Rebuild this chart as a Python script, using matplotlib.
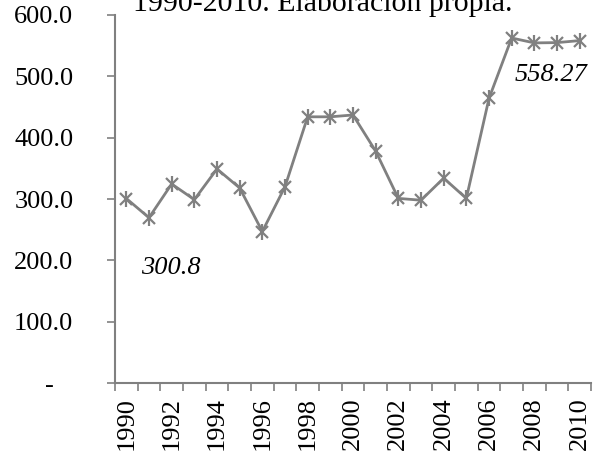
import matplotlib
matplotlib.use("Agg")
import matplotlib.pyplot as plt
import numpy as np

years = list(range(1990, 2011))
values = [300.8, 269.5, 324.5, 299.0, 349.0, 318.0, 247.0, 320.0, 434.0, 434.0, 437.0,
          378.0, 301.0, 298.0, 334.0, 301.0, 464.0, 562.5, 554.5, 555.0, 558.27]
ytick_vals = [0, 100, 200, 300, 400, 500, 600]
ytick_labels = ["-   ", "100.0", "200.0", "300.0", "400.0", "500.0", "600.0"]
title_text = "1990-2010. Elaboración propia."
label_first = "300.8"
label_last = "558.27"

plt.rcParams['font.family'] = ['Liberation Serif', 'DejaVu Serif']
FS = 19
grey = "#808080"

fig = plt.figure(figsize=(5.97, 4.57), dpi=100)
ax = fig.add_axes([115/597, 1-383/457, (591-115)/597, (383-15)/457])

x = np.arange(len(years))
ax.plot(x, values, color=grey, lw=2, marker='x', ms=9, mew=1.6, mec=grey, zorder=3)
ax.plot(x, values, color=grey, lw=0, marker='|', ms=11, mew=1.6, mec=grey, zorder=3)

ax.set_xlim(-0.5, len(years)-0.5)
ax.set_ylim(0, 600)

ax.set_yticks(ytick_vals)
ax.set_yticklabels(ytick_labels, fontsize=FS)
ax.tick_params(axis='y', length=6, width=1.2, color=grey, pad=24, direction='out')

ax.set_xticks(x[::2])
ax.set_xticklabels([str(y) for y in years[::2]], rotation=90, fontsize=FS)
ax.set_xticks(np.arange(-0.5, len(years), 1.0), minor=True)
ax.tick_params(axis='x', which='major', length=0, pad=10)
ax.tick_params(axis='x', which='minor', length=6, width=1.2, color=grey, direction='out')

for s in ['top', 'right']:
    ax.spines[s].set_visible(False)
for s in ['left', 'bottom']:
    ax.spines[s].set_color(grey)
    ax.spines[s].set_linewidth(1.5)

ax.text(x[0] + 1.97, values[0] - 113, label_first, fontsize=FS, style='italic',
        ha='center', va='center')
ax.text(x[-1] - 1.26, values[-1] - 56, label_last, fontsize=FS, style='italic',
        ha='center', va='center')

fig.text(323/597, 1-11/457, title_text, fontsize=21.5, ha='center', va='baseline')

fig.savefig("out.png", dpi=100)
